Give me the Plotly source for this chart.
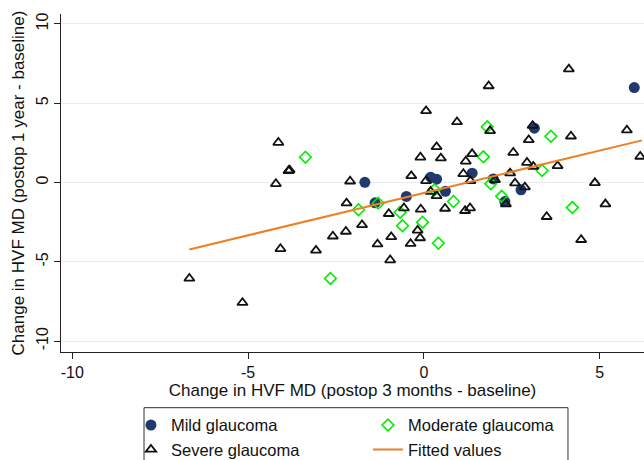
import plotly.graph_objects as go

# ---- data ----
mild_x = [-1.68, -1.39, -0.50, 0.19, 0.36, 0.61, 1.37, 1.97, 2.76, 2.30, 3.14, 5.98]
mild_y = [0.01, -1.28, -0.88, 0.34, 0.21, -0.55, 0.59, 0.23, -0.46, -1.20, 3.43, 5.99]

moderate_x = [-3.37, -1.86, -1.30, -0.68, -0.61, -2.66, -0.04, 0.41, 0.30, 0.84,
              1.69, 1.80, 1.90, 2.21, 3.36, 3.61, 4.22]
moderate_y = [1.60, -1.72, -1.30, -1.88, -2.73, -6.05, -2.50, -3.83, -0.45, -1.20,
              1.62, 3.52, -0.08, -0.87, 0.76, 2.92, -1.58]

severe_x = [-4.14, -3.85, -3.82, -4.21, -2.10, -2.20, -1.76, -2.22, -2.59, -4.08,
            -3.07, -6.67, -5.16, -1.00, -1.32, -0.93, -0.96, -0.36, -0.57, -0.38,
            -0.10, 0.06, 0.48, 0.36, 0.94, 1.37, 1.19, 1.12, 1.32, 0.06,
            0.19, 0.36, -0.09, 0.60, 1.17, 1.31, -0.18, -0.11, 1.84, 1.88,
            3.09, 2.98, 4.18, 4.12, 5.77, 6.15, 2.54, 2.93, 3.11, 3.80,
            2.45, 2.02, 2.59, 2.87, 2.33, 4.86, 5.16, 3.49, 4.47]
severe_y = [2.52, 0.74, 0.78, -0.08, 0.08, -1.30, -2.67, -3.09, -3.39, -4.18,
            -4.28, -6.05, -7.58, -1.97, -3.89, -3.43, -4.89, 0.42, -1.61, -3.86,
            1.59, 4.52, 1.54, 2.25, 3.82, 1.81, 1.34, 0.55, 0.11, 0.11,
            -0.57, -0.84, -1.69, -1.64, -1.78, -1.61, -3.02, -3.50, 6.09, 3.26,
            3.59, 2.69, 2.92, 7.15, 3.30, 1.64, 1.89, 1.26, 1.01, 1.05,
            0.59, 0.17, -0.04, -0.29, -1.36, -0.02, -1.36, -2.16, -3.61]

fit_x = [-6.67, 6.20]
fit_y = [-4.22, 2.66]

x_ticks = [-10, -5, 0, 5]
y_ticks = [-10, -5, 0, 5, 10]

FONT = "Arial, Liberation Sans, sans-serif"

fig = go.Figure()
fig.add_trace(go.Scatter(
    x=mild_x, y=mild_y, mode="markers", name="Mild glaucoma",
    marker=dict(symbol="circle", size=11, color="#22396e", line=dict(width=0)),
))
fig.add_trace(go.Scatter(
    x=moderate_x, y=moderate_y, mode="markers", name="Moderate glaucoma",
    marker=dict(symbol="diamond-open", size=9, color="#00ee00", line=dict(width=1.6, color="#00ee00")),
))
fig.add_trace(go.Scatter(
    x=severe_x, y=severe_y, mode="markers", name="Severe glaucoma",
    marker=dict(symbol="triangle-up-open", size=9, color="#111111", line=dict(width=1.8, color="#111111")),
))
fig.add_trace(go.Scatter(
    x=fit_x, y=fit_y, mode="lines", name="Fitted values",
    line=dict(color="#ee7f22", width=2),
))

fig.update_layout(
    width=644, height=460,
    margin=dict(l=61, r=0, t=14, b=108, autoexpand=False),
    paper_bgcolor="white", plot_bgcolor="white",
    font=dict(family=FONT, size=16, color="#111111"),
    showlegend=True,
    legend=dict(
        orientation="h", x=0.120, y=-0.165, xanchor="left", yanchor="top",
        borderwidth=0, bgcolor="rgba(0,0,0,0)",
        font=dict(family=FONT, size=16.5, color="#111111"),
        entrywidth=192, entrywidthmode="pixels", itemwidth=30,
        traceorder="normal", tracegroupgap=0,
    ),
    # frame around the legend (as in the reference)
    shapes=[dict(type="rect", xref="paper", yref="paper",
                 x0=0.1424, x1=0.8696, y0=-0.1648, y1=-0.40,
                 line=dict(color="#333333", width=1), fillcolor="rgba(0,0,0,0)",
                 layer="above")],
)

fig.update_xaxes(
    range=[-10.32, 6.257], tickmode="array", tickvals=x_ticks,
    ticktext=[str(v) for v in x_ticks], automargin=False,
    showgrid=False, zeroline=False,
    showline=True, linecolor="#222222", linewidth=1.2,
    ticks="outside", ticklen=6, tickcolor="#222222", tickwidth=1.2,
    tickfont=dict(family=FONT, size=16),
    title=dict(text="Change in HVF MD (postop 3 months - baseline)",
               font=dict(family=FONT, size=17), standoff=2),
)
fig.update_yaxes(
    range=[-10.69, 10.63], tickmode="array", tickvals=y_ticks,
    ticktext=[str(v) for v in y_ticks], tickangle=-90, automargin=False,
    showgrid=True, gridcolor="#e4eef0", gridwidth=1,
    zeroline=False,
    showline=True, linecolor="#222222", linewidth=1.2,
    ticks="outside", ticklen=6, tickcolor="#222222", tickwidth=1.2,
    tickfont=dict(family=FONT, size=16),
    title=dict(text="Change in HVF MD (postop 1 year - baseline)",
               font=dict(family=FONT, size=17), standoff=4),
)

fig.write_html("out.html", config={"displayModeBar": False},
               post_script="document.body.style.margin='0px';")
